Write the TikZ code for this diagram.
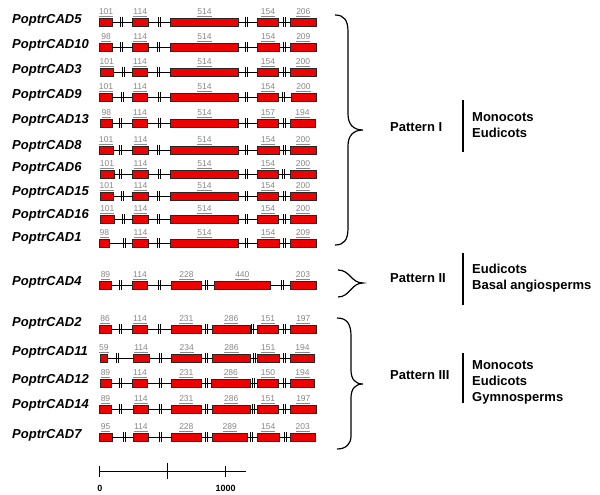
\documentclass[tikz,border=0pt]{standalone}
\usepackage{fontspec}
\setmainfont{Liberation Sans}
\definecolor{exred}{RGB}{238,0,0}
\definecolor{numgray}{RGB}{135,135,135}
\tikzset{
  genelab/.style={anchor=west,inner sep=0pt,font=\fontsize{13}{15}\selectfont\bfseries\itshape},
  exon/.style={draw=black!85,line width=0.9pt,fill=exred,rectangle,inner sep=0pt,outer sep=0pt,minimum height=8pt},
  intron/.style={draw=black,line width=0.9pt},
  brk/.style={draw=black,line width=0.8pt},
  num/.style={anchor=base,inner sep=0pt,text=numgray,font=\fontsize{8.5}{9}\selectfont},
  pat/.style={anchor=west,inner sep=0pt,font=\fontsize{13}{15}\selectfont\bfseries},
  taxa/.style={anchor=west,inner sep=0pt,align=left,font=\fontsize{13}{16}\selectfont\bfseries},
  brace/.style={draw=black,line width=1.2pt},
  sep/.style={draw=black,line width=1.3pt},
  scalelab/.style={inner sep=0pt,font=\fontsize{9}{10}\selectfont\bfseries}
}
% #1 id, #2 bar y, #3 label y, #4 exons x1/x2/lab, #5 breaks
\newcommand{\generow}[5]{%
  \node[genelab] (n#1) at (12,#3) {PoptrCAD#1};
  \foreach \xa/\xb/\lab [count=\k] in {#4}{%
    \pgfmathsetmacro{\w}{\xb-\xa}%
    \pgfmathsetmacro{\c}{(\xa+\xb)/2}%
    \node[exon,minimum width=\w pt] (e#1-\k) at (\c,#2) {};
    \node[num] (l#1-\k) at (\c,#2-7.3) {\underline{\lab}};
    \xdef\nex{\k}%
  }
  \pgfmathtruncatemacro{\nlast}{\nex-1}%
  \foreach \i in {1,...,\nlast}{%
    \pgfmathtruncatemacro{\j}{\i+1}%
    \draw[intron] (e#1-\i.east) -- (e#1-\j.west);
  }
  \foreach \b in {#5}{%
    \draw[brk] (\b-1.1,#2-5) -- (\b-1.1,#2+5);
    \draw[brk] (\b+1.1,#2-5) -- (\b+1.1,#2+5);
  }
}
\begin{document}
\begin{tikzpicture}[x=1pt,y=-1pt]
\useasboundingbox (0,0) rectangle (600,495);
\fill[white] (0,0) rectangle (600,495);
% Pattern I
\generow{5}{22}{20}{99.5/112.7/101,132.5/148/114,170.7/238.3/514,257.3/278.7/154,290/316.7/206}{121.7,159,246.5,284.5}
\generow{10}{47}{45}{99.3/112.7/98,132.5/148/114,170.7/238.3/514,257.3/279.3/154,290/316.7/209}{121.7,158.3,246.7,284.5}
\generow{3}{72}{70}{100/113.3/101,132.3/147.7/114,170.7/238.3/514,257.3/278.7/154,290/316/200}{123.3,158.3,246.7,284}
\generow{9}{97}{95}{99.3/112.7/101,132.3/147.7/114,170.7/238.3/514,257.3/278.7/154,291/316/200}{122.7,159.3,246.7,283.3}
\generow{13}{123}{120}{100/112.7/98,132.3/147.7/114,170.7/238.3/514,257.3/278.7/157,290/315/194}{120.7,159.3,246.7,284.3}
\generow{8}{150}{146}{99.3/113.3/101,132.7/148.3/114,170.7/238.3/514,257.3/279.3/154,290/316/200}{120.7,158.3,246.7,284}
\generow{6}{174}{168}{100/114/101,132.7/148.3/114,170.7/238.3/514,257.3/278.7/154,290/316/200}{120.7,159.3,246.7,283}
\generow{15}{196}{192}{100/113.3/101,132.7/148.3/114,170.7/238.3/514,257.3/278.7/154,290/316/200}{122,158.3,246.7,284}
\generow{16}{219}{215}{100/114.7/101,132.7/148.3/114,170.7/238.3/514,257.3/278.7/154,290/316/200}{123,158.3,246.7,284}
\generow{1}{243}{238}{99.3/109.3/98,132.7/148.3/114,170.7/238.3/514,257.3/279.3/154,290/316/209}{124,158.3,246.7,284}
% Pattern II
\generow{4}{285}{282}{99.3/111.7/89,132.3/147.7/114,171.3/201.7/228,214/270.7/440,290/316/203}{120.7,159,206,282.7}
% Pattern III
\generow{2}{329}{323}{99.3/111/86,132.3/147.7/114,171.7/201/231,212.3/250/286,257.3/278.7/151,290.7/316/197}{120.7,159.3,206,252.7,284}
\generow{11}{358}{352}{100/107.7/59,133.3/149/114,171.7/201.7/234,212.3/250.7/286,257.3/279.3/151,290.7/314.3/194}{117.7,160.7,206.7,254,284}
\generow{12}{383}{380}{100/111/89,132.3/147.7/114,171.7/201/231,211.7/250/286,257.3/278.7/150,290.7/314.3/194}{120.7,160,206,253.3,284}
\generow{14}{409}{405}{99.3/111.7/89,133.3/148.3/114,171.7/201/231,212.3/250/286,257.3/278.7/151,290.7/316/197}{120.7,160.7,206,253.3,284}
\generow{7}{437}{435}{99.3/112/95,133.3/148.3/114,171.7/201/228,212.3/247.3/289,257.3/279.3/154,290/315.3/203}{124,160,206.7,251.7,285}
% braces
\draw[brace] (335,15) .. controls (344,15) and (348,20) .. (348,32) -- (348,114)
  .. controls (348,124) and (353,130) .. (363,130)
  .. controls (353,130) and (348,136) .. (348,146) -- (348,228)
  .. controls (348,240) and (344,245) .. (335,245);
\draw[brace] (338,270) .. controls (350,270) and (351,283) .. (363,283)
  .. controls (351,283) and (350,297) .. (338,297);
\draw[brace] (337,318) .. controls (347,318) and (351,324) .. (351,336) -- (351,370)
  .. controls (351,379) and (355,384) .. (363,384)
  .. controls (355,384) and (351,389) .. (351,398) -- (351,436)
  .. controls (351,444) and (346,449) .. (337,449);
% pattern labels
\node[pat] (p1) at (390,127) {Pattern I};
\node[pat] (p2) at (390,278) {Pattern II};
\node[pat] (p3) at (390,375) {Pattern III};
\draw[sep] (463,100) -- (463,152);
\draw[sep] (463,253) -- (463,305);
\draw[sep] (463,353) -- (463,403);
\node[taxa] (t1) at (472,125.5) {Monocots\\Eudicots};
\node[taxa] (t2) at (472,278) {Eudicots\\Basal angiosperms};
\node[taxa] (t3) at (472,382) {Monocots\\Eudicots\\Gymnosperms};
% scale bar
\coordinate (s0) at (99,471.7);
\coordinate (s1) at (245.7,471.7);
\draw[line width=0.9pt] (s0) -- (s1);
\draw[line width=0.9pt] (99,466) -- (99,477);
\draw[line width=0.9pt] (167.3,463) -- (167.3,479);
\draw[line width=0.9pt] (225.7,466) -- (225.7,477);
\node[scalelab] (z0) at (100,488) {0};
\node[scalelab] (z1) at (225.7,488) {1000};
\end{tikzpicture}
\end{document}
